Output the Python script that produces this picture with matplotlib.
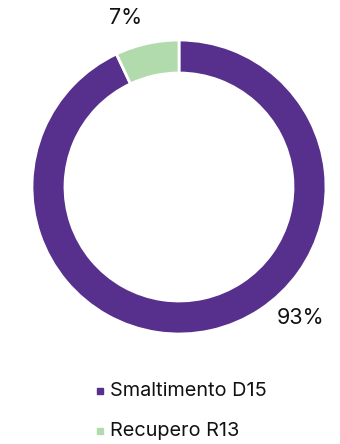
import matplotlib.pyplot as plt
from matplotlib.patches import Rectangle

plt.rcParams['font.family'] = ['Inter', 'DejaVu Sans']

labels = ['Smaltimento D15', 'Recupero R13']
shares = [93, 7]
colors = ['#56308c', '#b1dbac']

W, H = 340, 444
fig = plt.figure(figsize=(W / 100, H / 100), dpi=100)
ax = fig.add_axes([0, 0, 1, 1])

cx, cy = 179, H - 187
R = 147
ring = 33

wedges, _ = ax.pie(
	shares, colors=colors, startangle=90, counterclock=False,
	center=(cx, cy), radius=R, frame=True,
	wedgeprops=dict(width=ring, edgecolor='white', linewidth=2),
)
ax.set_xlim(0, W)
ax.set_ylim(0, H)
ax.set_aspect('equal')
ax.axis('off')

# percentage labels outside the ring
label_pos = [(301, H - 318), (126, H - 18)]
for (x, y), v in zip(label_pos, shares):
	ax.text(x, y, f'{v}%', ha='center', va='center', fontsize=15.5, color='#111111')

# legend rows under the chart
for i, (lab, c) in enumerate(zip(labels, colors)):
	y = H - 391 - i * 40
	ax.add_patch(Rectangle((97, y - 3), 6, 6, color=c))
	ax.text(110, y, lab, ha='left', va='center', fontsize=14.3, color='#111111')

fig.savefig('out.png', dpi=100)
